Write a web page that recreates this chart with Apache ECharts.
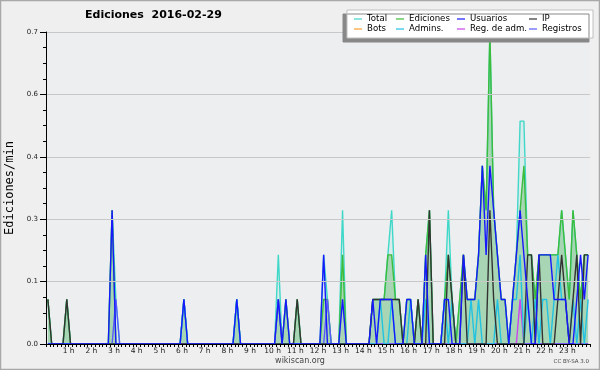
<!DOCTYPE html>
<html><head><meta charset="utf-8">
<script src="https://cdn.jsdelivr.net/npm/echarts@6/dist/echarts.min.js"></script>
<style>html,body{margin:0;padding:0;background:#efefef}#c{width:600px;height:370px}</style>
</head><body><div id="c"></div>
<script>
// edits per 10-minute bin (144 bins, 00:00 .. 23:50); plotted as edits/min at the bin centre
const total = [
1,0,0,0,0,1,0,0,0,0,0,0,
0,0,0,0,0,3,1,0,0,0,0,0,
0,0,0,0,0,0,0,0,0,0,0,0,
1,0,0,0,0,0,0,0,0,0,0,0,
0,0,1,0,0,0,0,0,0,0,0,0,
0,2,0,1,0,0,1,0,0,0,0,0,
0,2,1,0,0,0,3,0,0,0,0,0,
0,0,1,1,1,1,2,3,1,1,0,1,
1,0,1,0,2,3,0,0,0,1,3,1,
0,1,2,1,1,1,2,4,3,7,3,2,
1,1,0,1,2,5,5,2,2,1,2,2,
2,2,2,2,3,2,1,3,2,1,2,2];
const ediciones = [
1,0,0,0,0,1,0,0,0,0,0,0,
0,0,0,0,0,3,0,0,0,0,0,0,
0,0,0,0,0,0,0,0,0,0,0,0,
1,0,0,0,0,0,0,0,0,0,0,0,
0,0,1,0,0,0,0,0,0,0,0,0,
0,1,0,1,0,0,1,0,0,0,0,0,
0,1,1,0,0,0,2,0,0,0,0,0,
0,0,1,1,1,1,2,2,1,1,0,1,
1,0,1,0,2,3,0,0,0,1,2,1,
0,1,2,1,1,1,2,4,3,7,3,2,
1,1,0,1,2,3,4,2,2,1,2,2,
2,2,2,2,3,2,1,3,2,1,2,2];
const usuarios = [
0,0,0,0,0,0,0,0,0,0,0,0,
0,0,0,0,0,3,0,0,0,0,0,0,
0,0,0,0,0,0,0,0,0,0,0,0,
1,0,0,0,0,0,0,0,0,0,0,0,
0,0,1,0,0,0,0,0,0,0,0,0,
0,1,0,1,0,0,0,0,0,0,0,0,
0,2,0,0,0,0,1,0,0,0,0,0,
0,0,1,0,1,1,1,1,0,0,0,1,
1,0,0,0,2,0,0,0,0,1,1,0,
0,0,2,1,1,1,2,4,2,4,3,2,
1,1,0,1,2,3,2,1,0,0,2,2,
2,2,1,1,1,1,0,0,1,2,1,2];
const ip = [
1,0,0,0,0,1,0,0,0,0,0,0,
0,0,0,0,0,0,0,0,0,0,0,0,
0,0,0,0,0,0,0,0,0,0,0,0,
0,0,0,0,0,0,0,0,0,0,0,0,
0,0,0,0,0,0,0,0,0,0,0,0,
0,0,0,0,0,0,1,0,0,0,0,0,
0,0,0,0,0,0,0,0,0,0,0,0,
0,0,1,1,1,1,1,1,1,1,0,0,
0,0,1,0,0,3,0,0,0,0,2,1,
0,0,2,0,0,0,0,0,0,3,1,0,
0,0,0,0,0,0,0,2,2,0,2,0,
0,0,0,1,2,1,0,1,2,0,2,2];
const bots = new Array(144).fill(0);
const admins = [
0,0,0,0,0,0,0,0,0,0,0,0,
0,0,0,0,0,0,0,0,0,0,0,0,
0,0,0,0,0,0,0,0,0,0,0,0,
1,0,0,0,0,0,0,0,0,0,0,0,
0,0,1,0,0,0,0,0,0,0,0,0,
0,0,0,0,0,0,0,0,0,0,0,0,
0,0,0,0,0,0,0,0,0,0,0,0,
0,0,0,0,1,0,0,1,0,0,0,0,
1,0,0,0,1,0,0,0,0,1,0,1,
0,0,0,0,1,0,1,0,0,0,0,1,
0,0,0,1,1,2,0,1,0,1,0,1,
1,0,1,2,1,1,0,1,0,1,0,1];
const regAdm = new Array(144).fill(0); regAdm[125] = 1;
const registros = new Array(144).fill(0); registros[18] = 1; registros[61] = 1; registros[74] = 1;

const hourLabels = ['', '1 h','2 h','3 h','4 h','5 h','6 h','7 h','8 h','9 h','10 h','11 h','12 h','13 h','14 h','15 h','16 h','17 h','18 h','19 h','20 h','21 h','22 h','23 h',''];

const binMid = total.map((_, i) => i * 10 + 5);
const F = 'DejaVu Sans';
function mk(name, arr, color, extra) {
  return Object.assign({
    name, type: 'line', data: arr.map((c, i) => [binMid[i], c / 10]),
    symbol: 'none', showSymbol: false, color: color, clip: true,
    lineStyle: { width: 1.4, color: color }, itemStyle: { color: color },
    emphasis: { disabled: true }, animation: false
  }, extra || {});
}
const series = [
  mk('Total', total, '#3fd8c8', { areaStyle: { color: 'rgba(64,216,200,0.14)' } }),
  mk('Ediciones', ediciones, '#3cbc3c', { areaStyle: { color: 'rgba(60,170,60,0.45)' } }),
  mk('Bots', bots, '#ffa030'),
  mk('Reg. de adm.', regAdm, '#cc44ee'),
  mk('Registros', registros, '#5a5aff'),
  mk('Admins.', admins, '#22c2e2'),
  mk('IP', ip, '#333333'),
  mk('Usuarios', usuarios, '#1818ff')
];
function lg(data, left) {
  return { data: data, left: left, top: 14, orient: 'vertical', itemGap: 0, itemWidth: 8, itemHeight: 1.2,
    icon: 'rect', selectedMode: false, z: 20, padding: 0,
    textStyle: { fontFamily: F, fontSize: 8.6, lineHeight: 10, color: '#000' } };
}
const chart = echarts.init(document.getElementById('c'), null, { renderer: 'canvas' });
chart.setOption({
  animation: false,
  backgroundColor: '#efefef',
  title: { text: 'Ediciones  2016-02-29', left: 85, top: 10, padding: 0,
    textStyle: { fontFamily: F, fontSize: 11, fontWeight: 'bold', color: '#000' } },
  legend: [lg(['Total', 'Bots'], 354), lg(['Ediciones', 'Admins.'], 396), lg(['Usuarios', 'Reg. de adm.'], 457), lg(['IP', 'Registros'], 529)],
  grid: { left: 46, right: 10, top: 32, bottom: 26, show: true, backgroundColor: '#eceef0', borderWidth: 0,
    containLabel: false, outerBoundsMode: 'none' },
  xAxis: { type: 'value', min: 0, max: 1440, interval: 60, z: 8,
    axisLine: { lineStyle: { color: '#000', width: 1 } },
    axisTick: { show: true, length: 3, lineStyle: { color: '#000' } },
    minorTick: { show: true, splitNumber: 6, length: 3, lineStyle: { color: '#000' } },
    splitLine: { show: false },
    axisLabel: { margin: 3, fontFamily: F, fontSize: 7.5, color: '#222', formatter: v => hourLabels[Math.round(v / 60)] || '' } },
  yAxis: { type: 'value', min: 0, max: 0.7, interval: 0.14, z: 8,
    name: 'Ediciones/min', nameLocation: 'middle', nameGap: 29, nameRotate: 90,
    nameTextStyle: { fontFamily: 'DejaVu Sans Mono', fontSize: 12, color: '#000' },
    axisLine: { show: true, lineStyle: { color: '#000', width: 1 } },
    axisTick: { show: true, length: 6, lineStyle: { color: '#000' } },
    minorTick: { show: true, splitNumber: 4, length: 3, lineStyle: { color: '#000' } },
    splitLine: { show: true, lineStyle: { color: '#c8c8c8', width: 1 } },
    axisLabel: { margin: 8, fontFamily: F, fontSize: 7, color: '#222', formatter: v => v.toFixed(1) } },
  graphic: [
    { type: 'rect', z: 100, silent: true, shape: { x: 0.5, y: 0.5, width: 599, height: 369 }, style: { fill: 'none', stroke: '#a8a8a8', lineWidth: 1.5 } },
    { type: 'rect', z: 15, silent: true, shape: { x: 347, y: 10, width: 246, height: 28 },
      style: { fill: '#fff', stroke: '#c0c0c0', lineWidth: 1, shadowColor: '#888', shadowOffsetX: -4, shadowOffsetY: 4, shadowBlur: 0 } },
    { type: 'text', z: 20, silent: true, x: 300, y: 361, style: { text: 'wikiscan.org', fontFamily: F, fontSize: 8, fill: '#444', align: 'center', verticalAlign: 'middle' } },
    { type: 'text', z: 20, silent: true, x: 589, y: 362, style: { text: 'CC BY-SA 3.0', fontFamily: F, fontSize: 5.5, fill: '#444', align: 'right', verticalAlign: 'middle' } }
  ],
  series: series
});
</script></body></html>
